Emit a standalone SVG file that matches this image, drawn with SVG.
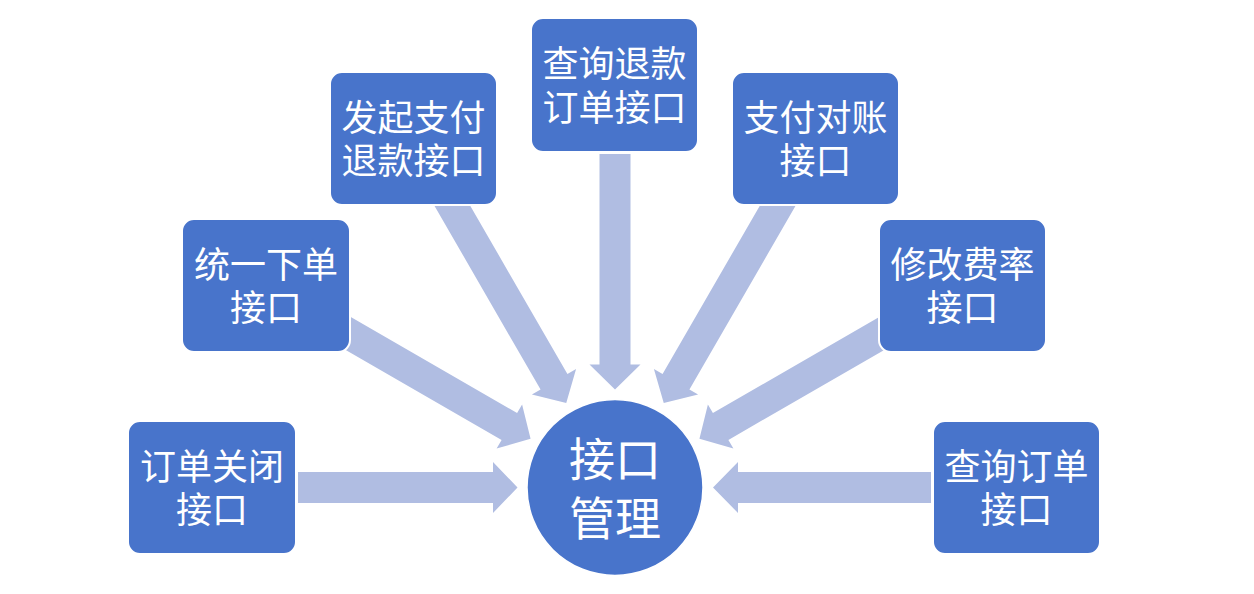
<svg xmlns="http://www.w3.org/2000/svg" width="1254" height="594" viewBox="0 0 1254 594">
<style>
.box{fill:#4874CB;stroke:#ffffff;stroke-width:2}
.hub{fill:#4874CB;stroke:#ffffff;stroke-width:1.5}
.arrow{fill:#B0BDE2}
.t{font-family:"Noto Sans CJK SC","Noto Sans",sans-serif;font-size:36px;fill:#ffffff;text-anchor:middle}
.th{font-family:"Noto Sans CJK SC","Noto Sans",sans-serif;font-size:46px;fill:#ffffff;text-anchor:middle}
</style>
<rect width="1254" height="594" fill="#ffffff"/>
<g id="connectors">
<polygon class="arrow" transform="translate(615,487.5) rotate(180)" points="97.5,0 122,-25.5 122,-15.5 317,-15.5 317,15.5 122,15.5 122,25.5"/>
<polygon class="arrow" transform="translate(615,487.5) rotate(210)" points="97.5,0 122,-25.5 122,-15.5 345,-15.5 345,15.5 122,15.5 122,25.5"/>
<polygon class="arrow" transform="translate(615,487.5) rotate(240)" points="97.5,0 122,-25.5 122,-15.5 345,-15.5 345,15.5 122,15.5 122,25.5"/>
<polygon class="arrow" transform="translate(615,487.5) rotate(270)" points="98,0 123,-25.5 123,-15.5 333.5,-15.5 333.5,15.5 123,15.5 123,25.5"/>
<polygon class="arrow" transform="translate(615,487.5) rotate(300)" points="97.5,0 122,-25.5 122,-15.5 345,-15.5 345,15.5 122,15.5 122,25.5"/>
<polygon class="arrow" transform="translate(615,487.5) rotate(330)" points="97.5,0 122,-25.5 122,-15.5 345,-15.5 345,15.5 122,15.5 122,25.5"/>
<polygon class="arrow" transform="translate(615,487.5) rotate(0)" points="98,0 123,-25.5 123,-15.5 316,-15.5 316,15.5 123,15.5 123,25.5"/>
</g>
<g id="hub">
<circle class="hub" cx="615" cy="487.5" r="88"/>
<text class="th" x="615" y="475.5">接口</text>
<text class="th" x="615" y="534.5">管理</text>
</g>
<g id="node-close-order">
<rect class="box" x="128" y="421" width="168" height="133" rx="12"/>
<text class="t" x="212" y="479.5">订单关闭</text>
<text class="t" x="212" y="523">接口</text>
</g>
<g id="node-unified-order">
<rect class="box" x="182" y="219" width="168" height="133" rx="12"/>
<text class="t" x="266" y="277.5">统一下单</text>
<text class="t" x="266" y="321">接口</text>
</g>
<g id="node-refund">
<rect class="box" x="330" y="72" width="167" height="133" rx="12"/>
<text class="t" x="413.5" y="130.5">发起支付</text>
<text class="t" x="413.5" y="174">退款接口</text>
</g>
<g id="node-query-refund">
<rect class="box" x="531" y="18" width="167" height="134" rx="12"/>
<text class="t" x="614.5" y="77">查询退款</text>
<text class="t" x="614.5" y="120.5">订单接口</text>
</g>
<g id="node-reconcile">
<rect class="box" x="732" y="72" width="167" height="133" rx="12"/>
<text class="t" x="815.5" y="130.5">支付对账</text>
<text class="t" x="815.5" y="174">接口</text>
</g>
<g id="node-rate">
<rect class="box" x="879" y="219" width="167" height="133" rx="12"/>
<text class="t" x="962.5" y="277.5">修改费率</text>
<text class="t" x="962.5" y="321">接口</text>
</g>
<g id="node-query-order">
<rect class="box" x="933" y="421" width="167" height="133" rx="12"/>
<text class="t" x="1016.5" y="479.5">查询订单</text>
<text class="t" x="1016.5" y="523">接口</text>
</g>
</svg>
